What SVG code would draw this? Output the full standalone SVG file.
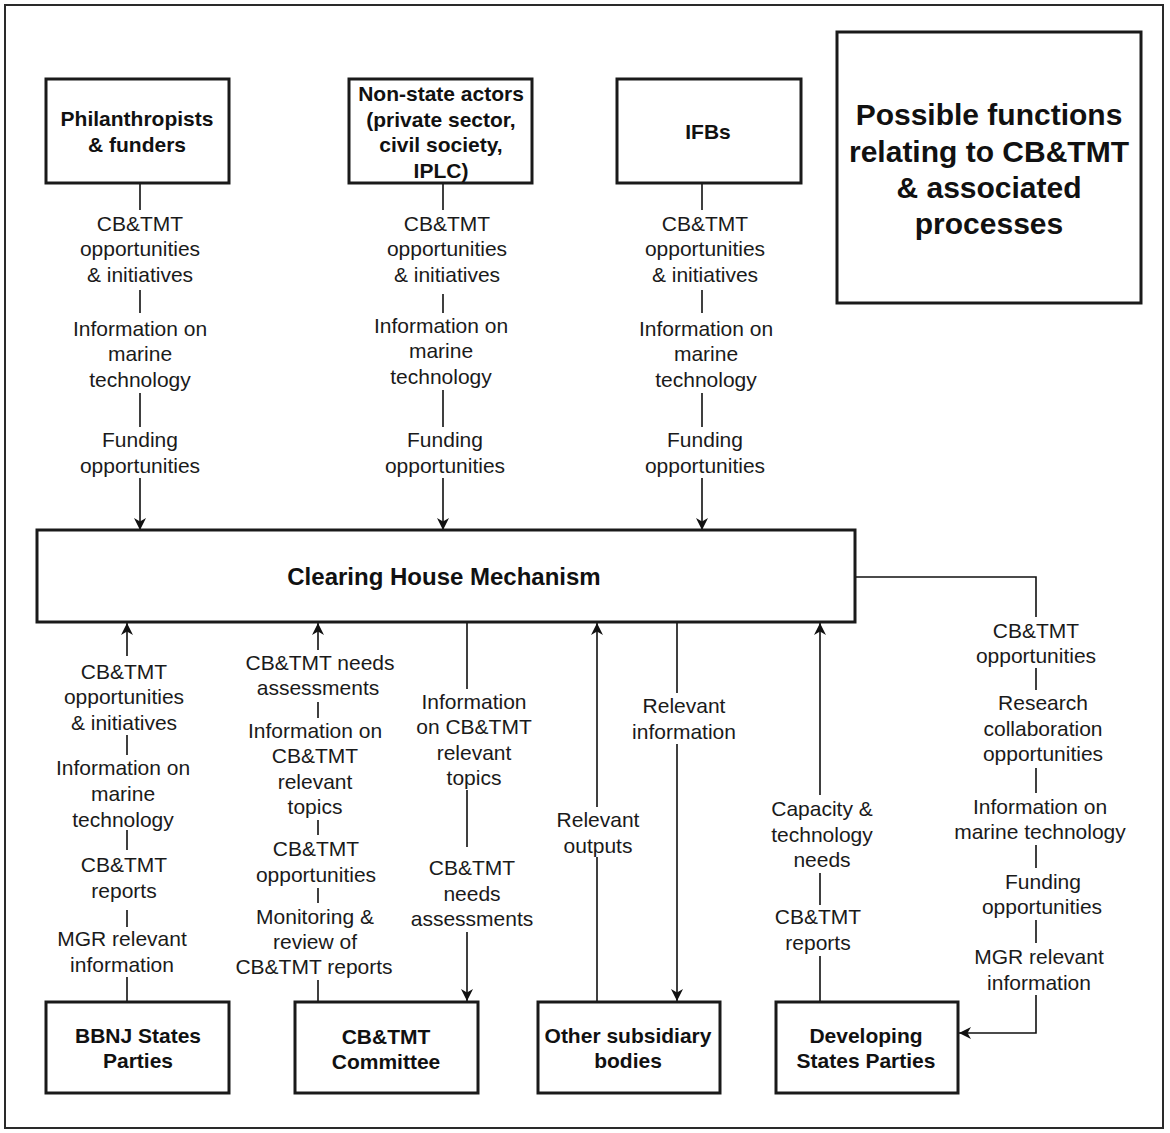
<svg xmlns="http://www.w3.org/2000/svg" width="1170" height="1133" viewBox="0 0 1170 1133">
<style>
  .box { fill: #ffffff; stroke: #1a1a1a; stroke-width: 3; }
  .frame { fill: #ffffff; stroke: #2a2a2a; stroke-width: 2; }
  .bl { font-family: "Liberation Sans", Arial, sans-serif; font-weight: bold; font-size: 21px; fill: #111; text-anchor: middle; }
  .title { font-family: "Liberation Sans", Arial, sans-serif; font-weight: bold; font-size: 30px; fill: #111; text-anchor: middle; }
  .chm { font-family: "Liberation Sans", Arial, sans-serif; font-weight: bold; font-size: 24px; fill: #111; text-anchor: middle; }
  .lb { font-family: "Liberation Sans", Arial, sans-serif; font-size: 21px; fill: #1a1a1a; text-anchor: middle; }
  .conn { fill: none; stroke: #111; stroke-width: 1.6; }
</style>
<defs>
  <marker id="arr" markerUnits="userSpaceOnUse" markerWidth="13" markerHeight="13" refX="12" refY="6" orient="auto" viewBox="0 0 13 12">
    <path d="M0,0 L12,6 L0,12 L3.5,6 Z" fill="#111"/>
  </marker>
</defs>
<rect class="frame" x="5" y="5" width="1158" height="1123"/>

<g id="connectors">
  <path class="conn" d="M140,183 V210 M140,290 V313 M140,393 V427 M140,478 V530" marker-end="url(#arr)"/>
  <path class="conn" d="M443,183 V210 M443,294 V313 M443,390 V427 M443,478 V530" marker-end="url(#arr)"/>
  <path class="conn" d="M702,183 V210 M702,290 V313 M702,393 V427 M702,478 V530" marker-end="url(#arr)"/>
  <path class="conn" d="M127,1002 V977 M127,927 V910 M127,850 V830 M127,755 V735 M127,656 V623" marker-end="url(#arr)"/>
  <path class="conn" d="M318,1002 V980 M318,903 V888 M318,835 V820 M318,718 V702 M318,650 V623" marker-end="url(#arr)"/>
  <path class="conn" d="M467,622 V689 M467,790 V847 M467,932 V1001" marker-end="url(#arr)"/>
  <path class="conn" d="M597,1002 V857 M597,807 V623" marker-end="url(#arr)"/>
  <path class="conn" d="M677,622 V693 M677,744 V1001" marker-end="url(#arr)"/>
  <path class="conn" d="M820,1002 V956 M820,905 V873 M820,795 V623" marker-end="url(#arr)"/>
  <path class="conn" d="M855,577 H1036 V617 M1036,668 V690 M1036,768 V793 M1036,845 V868 M1036,920 V943 M1036,995 V1033 H959" marker-end="url(#arr)"/>
</g>

<g id="labels">
  <text class="lb" x="140" y="231">CB&amp;TMT</text>
  <text class="lb" x="140" y="256">opportunities</text>
  <text class="lb" x="140" y="282">&amp; initiatives</text>
  <text class="lb" x="140" y="336">Information on</text>
  <text class="lb" x="140" y="361">marine</text>
  <text class="lb" x="140" y="387">technology</text>
  <text class="lb" x="140" y="447">Funding</text>
  <text class="lb" x="140" y="473">opportunities</text>

  <text class="lb" x="447" y="231">CB&amp;TMT</text>
  <text class="lb" x="447" y="256">opportunities</text>
  <text class="lb" x="447" y="282">&amp; initiatives</text>
  <text class="lb" x="441" y="333">Information on</text>
  <text class="lb" x="441" y="358">marine</text>
  <text class="lb" x="441" y="384">technology</text>
  <text class="lb" x="445" y="447">Funding</text>
  <text class="lb" x="445" y="473">opportunities</text>

  <text class="lb" x="705" y="231">CB&amp;TMT</text>
  <text class="lb" x="705" y="256">opportunities</text>
  <text class="lb" x="705" y="282">&amp; initiatives</text>
  <text class="lb" x="706" y="336">Information on</text>
  <text class="lb" x="706" y="361">marine</text>
  <text class="lb" x="706" y="387">technology</text>
  <text class="lb" x="705" y="447">Funding</text>
  <text class="lb" x="705" y="473">opportunities</text>

  <text class="lb" x="124" y="679">CB&amp;TMT</text>
  <text class="lb" x="124" y="704">opportunities</text>
  <text class="lb" x="124" y="730">&amp; initiatives</text>
  <text class="lb" x="123" y="775">Information on</text>
  <text class="lb" x="123" y="801">marine</text>
  <text class="lb" x="123" y="827">technology</text>
  <text class="lb" x="124" y="872">CB&amp;TMT</text>
  <text class="lb" x="124" y="898">reports</text>
  <text class="lb" x="122" y="946">MGR relevant</text>
  <text class="lb" x="122" y="972">information</text>

  <text class="lb" x="320" y="670">CB&amp;TMT needs</text>
  <text class="lb" x="318" y="695">assessments</text>
  <text class="lb" x="315" y="738">Information on</text>
  <text class="lb" x="315" y="763">CB&amp;TMT</text>
  <text class="lb" x="315" y="789">relevant</text>
  <text class="lb" x="315" y="814">topics</text>
  <text class="lb" x="316" y="856">CB&amp;TMT</text>
  <text class="lb" x="316" y="882">opportunities</text>
  <text class="lb" x="315" y="924">Monitoring &amp;</text>
  <text class="lb" x="315" y="949">review of</text>
  <text class="lb" x="314" y="974">CB&amp;TMT reports</text>

  <text class="lb" x="474" y="709">Information</text>
  <text class="lb" x="474" y="734">on CB&amp;TMT</text>
  <text class="lb" x="474" y="760">relevant</text>
  <text class="lb" x="474" y="785">topics</text>
  <text class="lb" x="472" y="875">CB&amp;TMT</text>
  <text class="lb" x="472" y="901">needs</text>
  <text class="lb" x="472" y="926">assessments</text>

  <text class="lb" x="598" y="827">Relevant</text>
  <text class="lb" x="598" y="853">outputs</text>

  <text class="lb" x="684" y="713">Relevant</text>
  <text class="lb" x="684" y="739">information</text>

  <text class="lb" x="822" y="816">Capacity &amp;</text>
  <text class="lb" x="822" y="842">technology</text>
  <text class="lb" x="822" y="867">needs</text>
  <text class="lb" x="818" y="924">CB&amp;TMT</text>
  <text class="lb" x="818" y="950">reports</text>

  <text class="lb" x="1036" y="638">CB&amp;TMT</text>
  <text class="lb" x="1036" y="663">opportunities</text>
  <text class="lb" x="1043" y="710">Research</text>
  <text class="lb" x="1043" y="736">collaboration</text>
  <text class="lb" x="1043" y="761">opportunities</text>
  <text class="lb" x="1040" y="814">Information on</text>
  <text class="lb" x="1040" y="839">marine technology</text>
  <text class="lb" x="1043" y="889">Funding</text>
  <text class="lb" x="1042" y="914">opportunities</text>
  <text class="lb" x="1039" y="964">MGR relevant</text>
  <text class="lb" x="1039" y="990">information</text>
</g>

<g id="node-philanthropists">
  <rect class="box" x="46" y="79" width="183" height="104"/>
  <text class="bl" x="137" y="126">Philanthropists</text>
  <text class="bl" x="137" y="152">&amp; funders</text>
</g>
<g id="node-nonstate">
  <rect class="box" x="349" y="79" width="183" height="104"/>
  <text class="bl" x="441" y="101">Non-state actors</text>
  <text class="bl" x="441" y="127">(private sector,</text>
  <text class="bl" x="441" y="152">civil society,</text>
  <text class="bl" x="441" y="178">IPLC)</text>
</g>
<g id="node-ifbs">
  <rect class="box" x="617" y="79" width="184" height="104"/>
  <text class="bl" x="708" y="139">IFBs</text>
</g>
<g id="node-title">
  <rect class="box" x="837" y="32" width="304" height="271"/>
  <text class="title" x="989" y="125">Possible functions</text>
  <text class="title" x="989" y="162">relating to CB&amp;TMT</text>
  <text class="title" x="989" y="198">&amp; associated</text>
  <text class="title" x="989" y="234">processes</text>
</g>
<g id="node-chm">
  <rect class="box" x="37" y="530" width="818" height="92"/>
  <text class="chm" x="444" y="585">Clearing House Mechanism</text>
</g>
<g id="node-bbnj">
  <rect class="box" x="46" y="1002" width="183" height="91"/>
  <text class="bl" x="138" y="1043">BBNJ States</text>
  <text class="bl" x="138" y="1068">Parties</text>
</g>
<g id="node-committee">
  <rect class="box" x="295" y="1002" width="183" height="91"/>
  <text class="bl" x="386" y="1044">CB&amp;TMT</text>
  <text class="bl" x="386" y="1069">Committee</text>
</g>
<g id="node-other">
  <rect class="box" x="538" y="1002" width="182" height="91"/>
  <text class="bl" x="628" y="1043">Other subsidiary</text>
  <text class="bl" x="628" y="1068">bodies</text>
</g>
<g id="node-developing">
  <rect class="box" x="776" y="1002" width="182" height="91"/>
  <text class="bl" x="866" y="1043">Developing</text>
  <text class="bl" x="866" y="1068">States Parties</text>
</g>
</svg>
